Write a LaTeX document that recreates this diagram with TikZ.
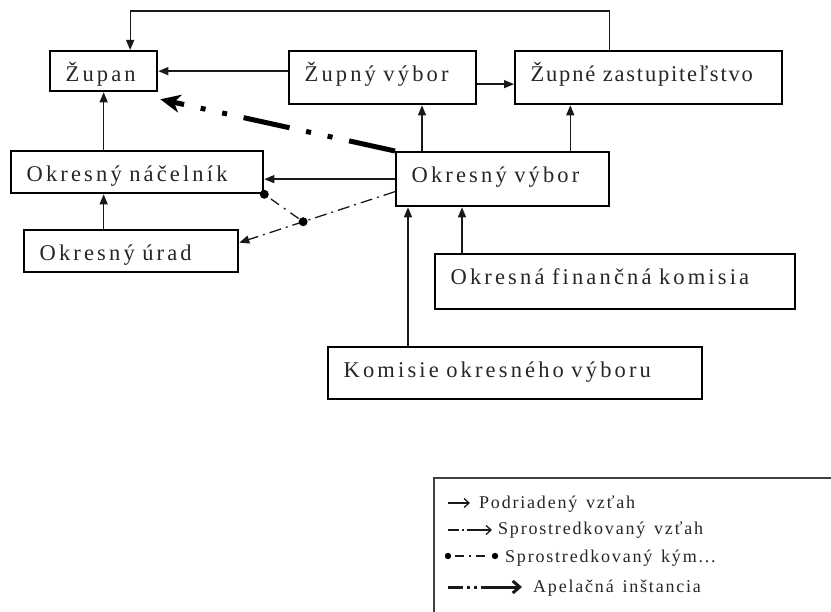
\documentclass[tikz,border=0pt]{standalone}
\usepackage{fontspec}
\setmainfont{Liberation Serif}
\newfontfamily\boxfont{Liberation Serif}[LetterSpace=14,WordSpace=1.6]
\newfontfamily\tightfont{Liberation Serif}[LetterSpace=8,WordSpace=1.4]
\newfontfamily\legfont{Liberation Serif}[LetterSpace=10,WordSpace=1.4]
\usetikzlibrary{arrows.meta,positioning,calc}

\begin{document}
\begin{tikzpicture}[x=1pt,y=-1pt,
   box/.style={draw=black,line width=2.3pt,rectangle,anchor=north west,align=left,
      inner xsep=15.5pt,inner ysep=0pt,text height=30pt,text=black!85,font=\boxfont\fontsize{22.5}{26}\selectfont},
   sub/.style={draw=black!90,line width=1.3pt,-{Triangle[length=10pt,width=8pt]}},
   medi/.style={sub,dash pattern=on 12pt off 5pt on 2pt off 5pt},
   kym/.style={draw=black!90,line width=1.3pt,dash pattern=on 2pt off 6pt on 10pt off 6pt},
   apel/.style={draw=black,line width=5pt,dash pattern=on 47pt off 17pt on 5pt off 17pt on 5pt off 17pt,
      -{Stealth[length=20pt,width=18pt,inset=6pt]}},
   legtext/.style={anchor=base west,inner sep=0pt,text=black!85,font=\legfont\fontsize{18}{20}\selectfont},
   legsub/.style={draw=black!90,line width=1.3pt,-{Straight Barb[length=5pt,width=9pt]}}]
\useasboundingbox (0,0) rectangle (831,612);
% boxes
\node[box,text width=76pt,text depth=10pt] (zup) at (49,50) {Župan};
\node[box,text width=156pt,text depth=23pt] (zv) at (288,50) {Župný výbor};
\node[box,text width=236pt,text depth=23pt,font=\tightfont\fontsize{22.5}{26}\selectfont] (zz) at (514,50) {Župné zastupiteľstvo};
\node[box,text width=221pt,text depth=12pt] (on) at (10,150) {Okresný náčelník};
\node[box,text width=183pt,text depth=12pt] (ou) at (23,229) {Okresný úrad};
\node[box,text width=182pt,text depth=24pt] (ov) at (395,151) {Okresný výbor};
\node[box,text width=329pt,text depth=25pt] (ofk) at (434,253) {Okresná finančná komisia};
\node[box,text width=343pt,text depth=22pt] (kov) at (327,346) {Komisie okresného výboru};
% podriadene vztahy
\draw[sub] ([xshift=-39.5]zz.north) -- ++(0,-39) -| ([xshift=26.5]zup.north);
\draw[sub] (zv.west |- zup.east) -- (zup.east);
\draw[sub] ([yshift=-6.5]zv.east) -- ([yshift=-6.5]zv.east -| zz.west);
\draw[sub] ([xshift=27]ov.north west) -- ([xshift=27]ov.north west |- zv.south);
\draw[sub] ([xshift=-40]ov.north east) -- ([xshift=-40]ov.north east |- zz.south);
\draw[sub] (zup.south |- on.north) -- (zup.south);
\draw[sub] (zup.south |- ou.north) -- (zup.south |- on.south);
\draw[sub] (ov.west) -- (ov.west -| on.east);
\draw[sub] ([xshift=28]ofk.north west) -- ([xshift=28]ofk.north west |- ov.south);
\draw[sub] ([xshift=13]ov.south west |- kov.north) -- ([xshift=13]ov.south west);
% sprostredkovane
\coordinate (ms) at ([yshift=-12.5]ov.west);
\coordinate (me) at ([yshift=8.5]ou.east);
\coordinate (mk) at ($(ms)!0.59!(me)$);
\draw[medi] (ms) -- (me);
\draw[kym] (on.south east) -- (mk);
\fill[black] (on.south east) circle (4.5) (mk) circle (4.5);
% apelacna instancia
\draw[apel] (ov.north west) -- ([shift={(2,7)}]zup.south east);
% legenda
\draw[black!75,line width=1.3pt] (434,612) |- (831,478);
\node[legtext] (l1) at (479,508) {Podriadený vzťah};
\node[legtext] (l2) at (498,535) {Sprostredkovaný vzťah};
\node[legtext] (l3) at (505,562) {Sprostredkovaný kým...};
\node[legtext] (l4) at (533,592) {Apelačná inštancia};
\coordinate (s1) at (448,503);
\coordinate (s2) at (448,530);
\coordinate (s3) at (448,556);
\coordinate (s4) at (448,587);
\draw[legsub] (s1) -- ++(22,0);
\draw[legsub,dash pattern=on 11pt off 3pt on 1.5pt off 3pt on 40pt off 0pt] (s2) -- ++(44,0);
\draw[kym,dash pattern=on 0pt off 7pt on 9pt off 5pt on 2pt off 5pt on 9pt off 10pt] (s3) -- ++(47,0);
\fill[black] (s3) circle (3.2) ([xshift=47]s3) circle (3.2);
\draw[legsub,line width=3pt,dash pattern=on 15pt off 4pt on 3pt off 4pt on 3pt off 4pt on 60pt off 0pt,
   -{Straight Barb[length=7pt,width=12pt]}] (s4) -- ++(74,0);
\end{tikzpicture}
\end{document}
